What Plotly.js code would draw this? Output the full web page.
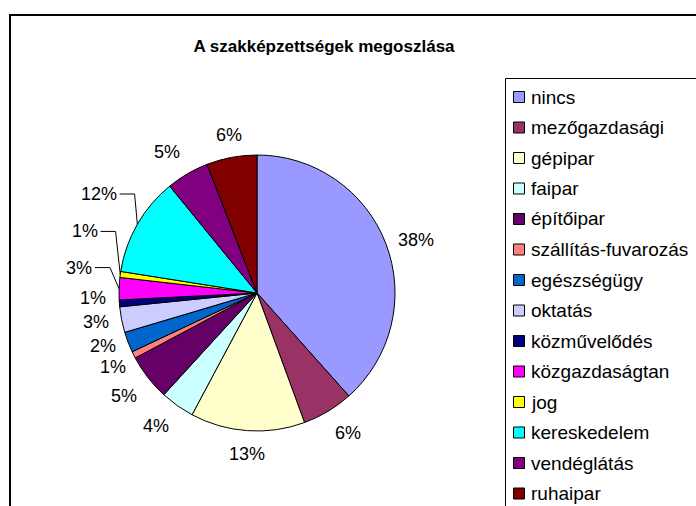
<!DOCTYPE html>
<html>
<head>
<meta charset="utf-8">
<script src="https://cdn.plot.ly/plotly-3.0.1.min.js"></script>
<style>html,body{margin:0;padding:0;background:#fff;}#chart{width:696px;height:506px;}</style>
</head>
<body>
<div id="chart"></div>
<script>
const categories = ["nincs","mezőgazdasági","gépipar","faipar","építőipar","szállítás-fuvarozás","egészségügy","oktatás","közművelődés","közgazdaságtan","jog","kereskedelem","vendéglátás","ruhaipar"];
const shares = [38.4, 6.0, 13.4, 4.0, 5.4, 0.8, 2.4, 3.0, 0.8, 2.6, 0.7, 11.6, 5.0, 5.9];
const colors = ["#9999FF","#993366","#FFFFCC","#CCFFFF","#660066","#FF8080","#0066CC","#CCCCFF","#000080","#FF00FF","#FFFF00","#00FFFF","#800080","#800000"];
const chartTitle = "A szakképzettségek megoszlása";

// label placement (layout only): small angular nudges and labels moved out with leader lines
const labelNudge = {5: -3, 8: 2.5};
const leaderLabels = {9: {shift: 7, dist: 166}, 10: {shift: 13.5, dist: 170}, 11: {shift: 5.5, dist: 171}};

const W = 696, H = 506;
const px = x => x / W;
const py = y => 1 - y / H;
const FONT = "Liberation Sans, Arial, sans-serif";
const cx = 257, cy = 293, r = 138, gap = 12;

const trace = {
  type: "pie",
  labels: categories,
  values: shares,
  sort: false,
  direction: "clockwise",
  rotation: 0,
  marker: {colors: colors, line: {color: "#000", width: 1}},
  textinfo: "none",
  showlegend: false,
  hoverinfo: "label+percent",
  automargin: false,
  domain: {x: [px(cx - r), px(cx + r)], y: [py(cy + r), py(cy - r)]}
};

const shapes = [
  {type: "rect", xref: "paper", yref: "paper", x0: px(10), x1: px(720), y0: py(15), y1: py(530), line: {color: "#000", width: 2}, fillcolor: "rgba(0,0,0,0)"},
  {type: "rect", xref: "paper", yref: "paper", x0: px(505.5), x1: px(720), y0: py(78.5), y1: py(530), line: {color: "#000", width: 1}, fillcolor: "rgba(0,0,0,0)"}
];
const annotations = [];

// legend
categories.forEach((name, i) => {
  const yc = 97 + i * 30.5;
  shapes.push({type: "rect", xref: "paper", yref: "paper", x0: px(513.5), x1: px(524.5), y0: py(yc + 5.5), y1: py(yc - 5.5), line: {color: "#000", width: 1}, fillcolor: colors[i]});
  annotations.push({xref: "paper", yref: "paper", x: px(530), y: py(yc), xanchor: "left", yanchor: "middle", text: name, showarrow: false, borderpad: 0, font: {family: FONT, size: 19, color: "#000"}});
});

// percentage labels
const total = shares.reduce((a, b) => a + b, 0);
let cum = 0;
shares.forEach((v, i) => {
  const mid = (cum + v / 2) / total * 360;
  cum += v;
  const text = Math.round(100 * v / total) + "%";
  const lead = leaderLabels[i];
  const th = (mid + (lead ? lead.shift : (labelNudge[i] || 0))) * Math.PI / 180;
  const s = Math.sin(th), c = Math.cos(th);
  const font = {family: FONT, size: 18, color: "#000"};
  if (lead) {
    const ax = cx + lead.dist * s, ay = cy - lead.dist * c;
    const m = mid * Math.PI / 180;
    const ex = cx + r * Math.sin(m), ey = cy - r * Math.cos(m);
    annotations.push({xref: "paper", yref: "paper", x: px(ax), y: py(ay), xanchor: "right", yanchor: "middle", text: text, showarrow: false, borderpad: 0, font: font});
    shapes.push({type: "path", xref: "paper", yref: "paper",
      path: "M " + px(ax + 2) + " " + py(ay) + " L " + px(ax + 17) + " " + py(ay) + " L " + px(ex) + " " + py(ey),
      line: {color: "#000", width: 1}});
  } else {
    const d = r + gap;
    const ax = cx + d * s, ay = cy - d * c;
    const xa = s > 0.5 ? "left" : (s < -0.5 ? "right" : "center");
    const ya = c > 0.5 ? "bottom" : (c < -0.5 ? "top" : "middle");
    annotations.push({xref: "paper", yref: "paper", x: px(ax), y: py(ay), xanchor: xa, yanchor: ya, text: text, showarrow: false, borderpad: 0, font: font});
  }
});

const layout = {
  width: W, height: H,
  margin: {l: 0, r: 0, t: 0, b: 0},
  paper_bgcolor: "#fff",
  title: {text: chartTitle, x: px(324), xanchor: "center", y: py(46), yanchor: "middle", font: {family: FONT, size: 17, weight: "bold", color: "#000"}},
  shapes: shapes,
  annotations: annotations,
  showlegend: false
};

Plotly.newPlot("chart", [trace], layout, {displayModeBar: false, staticPlot: true});
</script>
</body>
</html>
